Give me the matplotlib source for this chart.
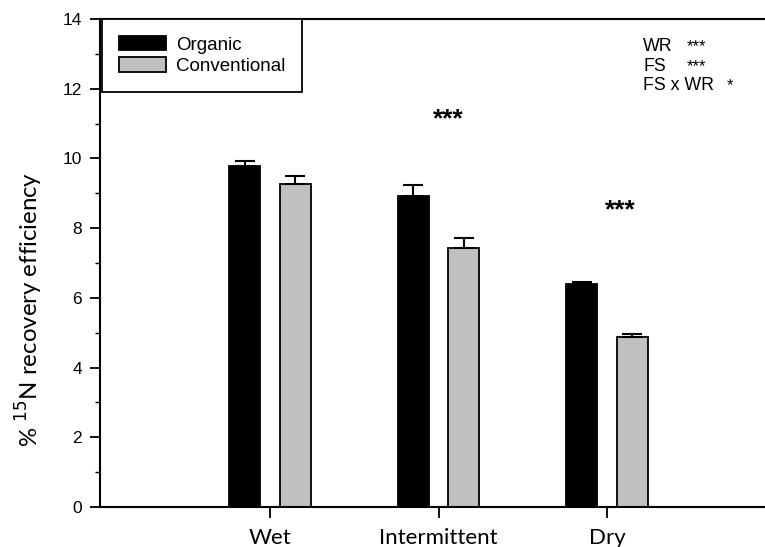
import numpy as np
import matplotlib.pyplot as plt
from matplotlib.ticker import MultipleLocator

# data
regimes = ['Wet', 'Intermittent', 'Dry']
organic = [9.79, 8.93, 6.40]
organic_err = [0.15, 0.31, 0.06]
conventional = [9.26, 7.42, 4.89]
conventional_err = [0.24, 0.29, 0.06]
stats_labels = ['WR', 'FS', 'FS x WR']
stats_marks = ['***', '***', '*']
group_marks = ['', '***', '***']
group_mark_x = [0, 1.06, 2.08]
group_mark_y = [None, 11.13, 8.52]

plt.rcParams['font.family'] = ['Liberation Sans', 'DejaVu Sans']
calibri_like = ['Lato', 'DejaVu Sans']

fig = plt.figure(figsize=(7.65, 5.47), dpi=100)
ax = fig.add_axes([0.1307, 0.0731, 0.8693, 0.8922])

x = np.arange(len(regimes))
width = 0.184
off = 0.15

ax.bar(x - off, organic, width, color='black', edgecolor='black', linewidth=1.3,
       label='Organic', zorder=2)
ax.bar(x + off, conventional, width, color='#c0c0c0', edgecolor='black', linewidth=1.3,
       label='Conventional', zorder=2)
ax.errorbar(x - off, organic, yerr=[np.zeros(3), organic_err], fmt='none',
            ecolor='black', elinewidth=1.5, capsize=7, capthick=1.5, zorder=3)
ax.errorbar(x + off, conventional, yerr=[np.zeros(3), conventional_err], fmt='none',
            ecolor='black', elinewidth=1.5, capsize=7, capthick=1.5, zorder=3)

for m, gx, gy in zip(group_marks, group_mark_x, group_mark_y):
    if m:
        ax.text(gx, gy, m, ha='center', va='center', fontsize=19, fontweight='bold')

ax.set_xlim(-1.01, 2.938)
ax.set_ylim(0, 14)
ax.yaxis.set_major_locator(MultipleLocator(2))
ax.yaxis.set_minor_locator(MultipleLocator(1))
ax.set_xticks(x)
ax.set_xticklabels(regimes, family=calibri_like, fontsize=16)
ax.tick_params(axis='x', direction='out', length=8, width=1.3, pad=7)
ax.tick_params(axis='y', which='major', direction='out', length=7, width=1.3,
               labelsize=12.5, pad=6)
ax.tick_params(axis='y', which='minor', direction='out', length=3.5, width=1.0)
ax.spines['right'].set_visible(False)
for s in ['left', 'top', 'bottom']:
    ax.spines[s].set_linewidth(1.5)

ax.set_ylabel('% $^{15}$N recovery efficiency', family=calibri_like, fontsize=17.3)
ax.yaxis.set_label_coords(-0.083, 0.405)

leg = ax.legend(loc='upper left', bbox_to_anchor=(0.003, 1.0), borderaxespad=0,
                fancybox=False, edgecolor='black', framealpha=1, fontsize=13.5,
                handlelength=2.5, handleheight=0.8, handletextpad=0.55,
                labelspacing=0.2, borderpad=0.9)
leg.get_frame().set_linewidth(1.3)

for i, (lab, mk) in enumerate(zip(stats_labels, stats_marks)):
    yy = 0.943 - i * 0.04
    ax.text(0.817, yy, lab, transform=ax.transAxes, fontsize=12.8, va='center')
    ax.text(0.817 + (0.065 if i < 2 else 0.125), yy, mk, transform=ax.transAxes,
            fontsize=12, va='center', ha='left')

fig.savefig('out.png', dpi=100)
